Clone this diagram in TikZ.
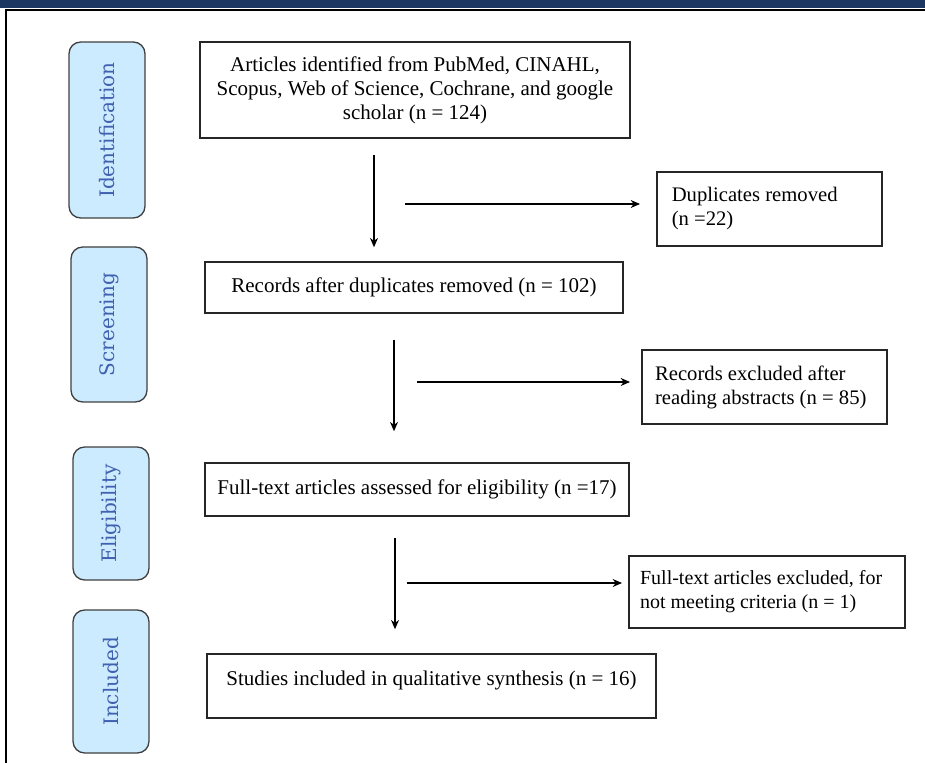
\documentclass[tikz,border=0pt]{standalone}
\usepackage{fontspec}
\usetikzlibrary{arrows.meta}
\setmainfont{Liberation Serif}
\newfontfamily\phasefont{DejaVu Serif}
\definecolor{bandeau}{RGB}{28,55,97}
\definecolor{fondphase}{RGB}{204,235,255}
\definecolor{textephase}{RGB}{64,96,176}
\begin{document}
\begin{tikzpicture}[x=0.6pt,y=-0.6pt,
	phase/.style={draw=black!75,line width=0.8pt,fill=fondphase,rounded corners=7pt,rotate=90,
		minimum height=45.6pt,inner sep=0pt,font=\phasefont\fontsize{12}{14}\selectfont,text=textephase},
	boite/.style={draw=black!85,line width=0.9pt,align=center,inner sep=0pt,font=\fontsize{12.6}{14.4}\selectfont},
	exclu/.style={draw=black!85,line width=0.9pt,align=flush left,inner xsep=7pt,inner ysep=0pt,anchor=west,
		font=\fontsize{12.4}{14.4}\selectfont},
	fleche/.style={->,>={Stealth[length=5.6pt,width=4.8pt]},line width=0.7pt}]
	\useasboundingbox (0,0) rectangle (925,763);
	\fill[bandeau] (0,0) rectangle (925,8); % bandeau du haut
	\draw[line width=1.2pt] (925,10) -- (6,10) -- (6,763); % le cadre
	\node[phase,minimum width=105.6pt] (ident) at (107,130) {Identification};
	\node[phase,minimum width=93pt] (screen) at (109,324.5) {Screening};
	\node[phase,minimum width=79.8pt] (elig) at (111,513.5) {Eligibility};
	\node[phase,minimum width=85.8pt] (incl) at (111,681.5) {Included};
	\node[boite,minimum width=258pt,minimum height=57.6pt] (articles) at (415,90)
		{Articles identified from PubMed, CINAHL,\\Scopus, Web of Science, Cochrane, and google\\scholar (n = 124)};
	\node[boite,minimum width=250.8pt,minimum height=30.6pt] (records) at (414,287.5)
		{Records after duplicates removed (n = 102)};
	\node[boite,minimum width=254.4pt,minimum height=31.8pt] (fulltext) at (417,489.5)
		{Full-text articles assessed for eligibility (n =17)};
	\node[boite,minimum width=269.4pt,minimum height=38.4pt,text depth=9pt] (studies) at (431.5,686)
		{Studies included in qualitative synthesis (n = 16)};
	\node[exclu,inner xsep=9pt,text width=117pt,minimum height=44.4pt] (dup) at (656,209)
		{Duplicates removed\\(n =22)};
	\node[exclu,inner xsep=8pt,text width=131pt,minimum height=44.4pt] (abstr) at (641,387)
		{Records excluded after\\reading abstracts (n = 85)};
	\node[exclu,inner xsep=6.8pt,text width=152pt,minimum height=43.2pt,font=\fontsize{12}{14.4}\selectfont] (crit) at (628,592)
		{Full-text articles excluded, for\\not meeting criteria (n = 1)};
	\coordinate (v1) at (374,155);
	\coordinate (h1) at (405,204);
	\coordinate (v2) at (394,340);
	\coordinate (h2) at (417,382);
	\coordinate (v3) at (395,538);
	\coordinate (h3) at (407,583);
	\draw[fleche,shorten >=8.4pt] (v1) -- (v1 |- records.north); % vers les doublons retires
	\draw[fleche,shorten >=9.6pt] (h1) -- (h1 -| dup.west);
	\draw[fleche,shorten >=18.6pt] (v2) -- (v2 |- fulltext.north);
	\draw[fleche,shorten >=6.6pt] (h2) -- (h2 -| abstr.west);
	\draw[fleche,shorten >=14.4pt] (v3) -- (v3 |- studies.north);
	\draw[fleche,shorten >=3.6pt] (h3) -- (h3 -| crit.west);
\end{tikzpicture}
\end{document}
